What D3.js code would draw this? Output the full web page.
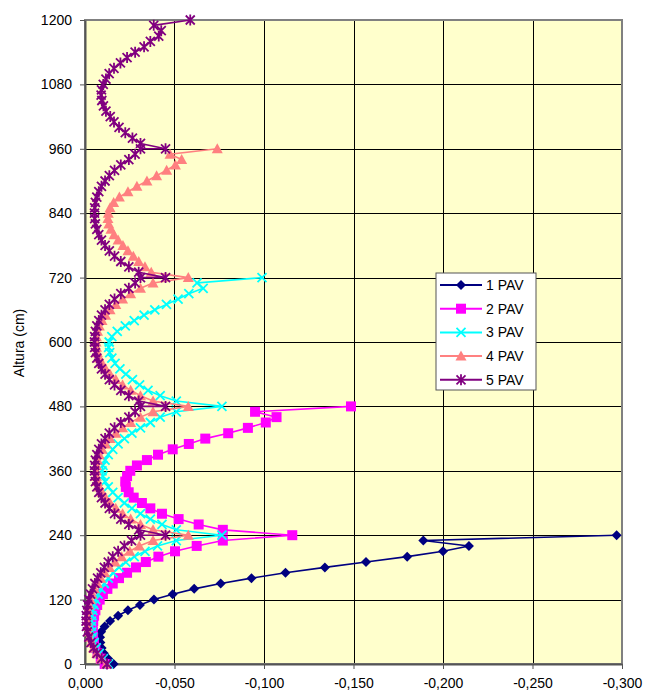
<!DOCTYPE html>
<html>
<head>
<meta charset="utf-8">
<title>Altura x PAV</title>
<script src="https://cdn.jsdelivr.net/npm/d3@7"></script>
<style>
body { margin: 0; background: #ffffff; }
text { font-family: "Liberation Sans", Arial, sans-serif; fill: #000; }
</style>
</head>
<body>
<script>

// tick labels / categories
var xTicks = [0, -0.05, -0.1, -0.15, -0.2, -0.25, -0.3];
var yTicks = [0, 120, 240, 360, 480, 600, 720, 840, 960, 1080, 1200];
var seriesNames = ["1 PAV", "2 PAV", "3 PAV", "4 PAV", "5 PAV"];

// [altura (cm), valor]
var pav1 = [[0,-0.016],[10,-0.013],[20,-0.0105],[30,-0.0093],[40,-0.0086],[50,-0.0084],[60,-0.009],
  [70,-0.011],[80,-0.014],[90,-0.0185],[100,-0.024],[110,-0.0307],[120,-0.0385],[130,-0.049],
  [140,-0.061],[150,-0.0758],[160,-0.093],[170,-0.112],[180,-0.134],[190,-0.157],[200,-0.180],
  [210,-0.200],[220,-0.2145],[230,-0.189],[240,-0.297]];

var pav2 = [[0,-0.011],[10,-0.0088],[20,-0.007],[30,-0.0058],[40,-0.005],[50,-0.0045],[60,-0.0043],
  [70,-0.0043],[80,-0.0046],[90,-0.0051],[100,-0.0058],[110,-0.0068],[120,-0.0082],[130,-0.010],
  [140,-0.0125],[150,-0.0155],[160,-0.019],[170,-0.0235],[180,-0.0285],[190,-0.034],[200,-0.041],
  [210,-0.0503],[220,-0.0624],[230,-0.077],[240,-0.1158],
  [250,-0.077],[260,-0.0635],[270,-0.0523],[280,-0.043],[290,-0.0365],[300,-0.0318],[310,-0.0272],
  [320,-0.0244],[330,-0.0228],[340,-0.0225],[350,-0.0235],[360,-0.0253],[370,-0.029],[380,-0.0346],
  [390,-0.0408],[400,-0.049],[410,-0.058],[420,-0.0672],[430,-0.080],[440,-0.091],[450,-0.101],
  [460,-0.107],[470,-0.095],[480,-0.1486]];

var pav3 = [[0,-0.013],[10,-0.0102],[20,-0.008],[30,-0.0063],[40,-0.0051],[50,-0.0043],[60,-0.0038],
  [70,-0.0036],[80,-0.0036],[90,-0.0039],[100,-0.0044],[110,-0.0051],[120,-0.006],[130,-0.0073],
  [140,-0.0089],[150,-0.0108],[160,-0.013],[170,-0.0157],[180,-0.019],[190,-0.0228],[200,-0.0275],
  [210,-0.0335],[220,-0.0405],[230,-0.051],[240,-0.0765],
  [250,-0.051],[260,-0.043],[270,-0.0365],[280,-0.031],[290,-0.0262],[300,-0.022],[310,-0.0185],
  [320,-0.0155],[330,-0.013],[340,-0.0112],[350,-0.010],[360,-0.0095],[370,-0.010],[380,-0.0112],
  [390,-0.013],[400,-0.0155],[410,-0.0185],[420,-0.022],[430,-0.0262],[440,-0.031],[450,-0.0365],
  [460,-0.042],[470,-0.051],[480,-0.0765],
  [490,-0.051],[500,-0.042],[510,-0.0352],[520,-0.0305],[530,-0.0265],[540,-0.0228],[550,-0.0195],
  [560,-0.0168],[570,-0.015],[580,-0.0138],[590,-0.0132],[600,-0.0135],[610,-0.015],[620,-0.018],
  [630,-0.0225],[640,-0.0275],[650,-0.033],[660,-0.039],[670,-0.0455],[680,-0.052],[690,-0.058],
  [700,-0.066],[710,-0.0626],[720,-0.0989]];

var pav4 = [[0,-0.012],[10,-0.009],[20,-0.0066],[30,-0.0048],[40,-0.0035],[50,-0.0025],[60,-0.0018],
  [70,-0.0014],[80,-0.0012],[90,-0.0013],[100,-0.0016],[110,-0.0022],[120,-0.003],[130,-0.004],
  [140,-0.0053],[150,-0.0069],[160,-0.0088],[170,-0.011],[180,-0.0137],[190,-0.0168],[200,-0.0205],
  [210,-0.025],[220,-0.0303],[230,-0.038],[240,-0.0577],
  [250,-0.038],[260,-0.031],[270,-0.0255],[280,-0.021],[290,-0.0172],[300,-0.014],[310,-0.0115],
  [320,-0.0095],[330,-0.008],[340,-0.007],[350,-0.0064],[360,-0.0062],[370,-0.0064],[380,-0.007],
  [390,-0.008],[400,-0.0095],[410,-0.0115],[420,-0.014],[430,-0.0172],[440,-0.021],[450,-0.0255],
  [460,-0.031],[470,-0.038],[480,-0.0577],
  [490,-0.038],[500,-0.031],[510,-0.0255],[520,-0.021],[530,-0.0172],[540,-0.014],[550,-0.0115],
  [560,-0.0095],[570,-0.008],[580,-0.007],[590,-0.0064],[600,-0.0062],[610,-0.0064],[620,-0.007],
  [630,-0.008],[640,-0.0095],[650,-0.0115],[660,-0.014],[670,-0.0172],[680,-0.021],[690,-0.0255],
  [700,-0.031],[710,-0.038],[720,-0.0577],
  [730,-0.037],[740,-0.0335],[750,-0.030],[760,-0.027],[770,-0.024],[780,-0.0212],[790,-0.0185],
  [800,-0.0162],[810,-0.0145],[820,-0.0133],[830,-0.0128],[840,-0.013],[850,-0.014],[860,-0.016],
  [870,-0.0192],[880,-0.024],[890,-0.029],[900,-0.0346],[910,-0.040],[920,-0.0456],[930,-0.0505],
  [940,-0.054],[950,-0.0475],[960,-0.0739]];

var pav5 = [[0,-0.0123],[10,-0.0093],[20,-0.0067],[30,-0.0048],[40,-0.0033],[50,-0.0021],[60,-0.0013],
  [70,-0.0008],[80,-0.0006],[90,-0.0007],[100,-0.001],[110,-0.0015],[120,-0.0022],[130,-0.0031],
  [140,-0.0042],[150,-0.0055],[160,-0.007],[170,-0.0088],[180,-0.0108],[190,-0.013],[200,-0.0155],
  [210,-0.0185],[220,-0.022],[230,-0.026],[240,-0.031],[240,-0.045],
  [250,-0.030],[260,-0.0245],[270,-0.020],[280,-0.0165],[290,-0.0136],[300,-0.0112],[310,-0.0092],
  [320,-0.0077],[330,-0.0066],[340,-0.0058],[350,-0.0054],[360,-0.0053],[370,-0.0054],[380,-0.0058],
  [390,-0.0066],[400,-0.0077],[410,-0.0092],[420,-0.0112],[430,-0.0136],[440,-0.0165],[450,-0.020],
  [460,-0.0245],[470,-0.028],[480,-0.031],[480,-0.045],
  [490,-0.030],[500,-0.0245],[510,-0.020],[520,-0.0165],[530,-0.0136],[540,-0.0112],[550,-0.0092],
  [560,-0.0077],[570,-0.0066],[580,-0.0058],[590,-0.0054],[600,-0.0053],[610,-0.0054],[620,-0.0058],
  [630,-0.0066],[640,-0.0077],[650,-0.0092],[660,-0.0112],[670,-0.0136],[680,-0.0165],[690,-0.020],
  [700,-0.0245],[710,-0.028],[720,-0.031],[720,-0.045],
  [730,-0.030],[740,-0.0245],[750,-0.020],[760,-0.0165],[770,-0.0136],[780,-0.0112],[790,-0.0092],
  [800,-0.0077],[810,-0.0066],[820,-0.0058],[830,-0.0054],[840,-0.0053],[850,-0.0054],[860,-0.0058],
  [870,-0.0066],[880,-0.0077],[890,-0.0092],[900,-0.0112],[910,-0.0136],[920,-0.0165],[930,-0.020],
  [940,-0.0245],[950,-0.028],[960,-0.031],[960,-0.045],
  [970,-0.031],[980,-0.0265],[990,-0.0225],[1000,-0.019],[1010,-0.0162],[1020,-0.0141],[1030,-0.0117],
  [1040,-0.0103],[1050,-0.0094],[1060,-0.009],[1070,-0.0092],[1080,-0.0102],[1090,-0.0117],
  [1100,-0.0135],[1110,-0.0162],[1120,-0.0198],[1130,-0.0235],[1140,-0.028],[1150,-0.033],
  [1160,-0.0365],[1170,-0.0412],[1180,-0.0426],[1190,-0.0384],[1200,-0.0588]];

var allSeries = [pav1, pav2, pav3, pav4, pav5];
var colors = ["#000080", "#ff00ff", "#00ffff", "#ff8080", "#800080"];
var markers = ["diamond", "square", "x", "triangle", "star"];

// dimensions
var margin = {top: 20, right: 25, bottom: 31, left: 85},
  width = 647 - margin.left - margin.right,
  height = 695 - margin.top - margin.bottom;

var svg = d3.select("body").append("svg")
  .attr("width", 647)
  .attr("height", 695)
 .append("g")
  .attr("transform", "translate(" + margin.left + "," + margin.top + ")");

var x = d3.scaleLinear().domain([0, -0.3]).range([0, width]);
var y = d3.scaleLinear().domain([0, 1200]).range([height, 0]);

var fmt = d3.formatLocale({decimal: ",", thousands: ".", grouping: [3], currency: ["", ""], minus: "-"}).format(".3f");

// plot background
svg.append("rect")
  .attr("width", width)
  .attr("height", height)
  .attr("fill", "#ffffcc");

// grid
svg.append("g").selectAll("line")
  .data(yTicks.slice(1, -1))
  .enter().append("line")
  .attr("x1", 0).attr("x2", width)
  .attr("y1", function(d) { return Math.round(y(d)) + 0.5; })
  .attr("y2", function(d) { return Math.round(y(d)) + 0.5; })
  .attr("stroke", "#000").attr("stroke-width", 1);

svg.append("g").selectAll("line")
  .data(xTicks.slice(1, -1))
  .enter().append("line")
  .attr("y1", 0).attr("y2", height)
  .attr("x1", function(d) { return Math.round(x(d)) + 0.5; })
  .attr("x2", function(d) { return Math.round(x(d)) + 0.5; })
  .attr("stroke", "#000").attr("stroke-width", 1);

// border
svg.append("rect")
  .attr("width", width)
  .attr("height", height)
  .attr("fill", "none")
  .attr("stroke", "#808080")
  .attr("stroke-width", 2);

// axes
var yAxis = svg.append("g")
  .call(d3.axisLeft(y).tickValues(yTicks).tickSize(5).tickSizeOuter(0).tickFormat(d3.format("d")));
yAxis.select(".domain").attr("stroke", "#555").attr("stroke-width", 2);
yAxis.selectAll(".tick line").attr("stroke", "#555");
yAxis.selectAll("text").style("font-size", "14px").attr("x", -13);

var xAxis = svg.append("g")
  .attr("transform", "translate(0," + height + ")")
  .call(d3.axisBottom(x).tickValues(xTicks).tickSize(5).tickSizeOuter(0).tickFormat(fmt));
xAxis.select(".domain").attr("stroke", "#555").attr("stroke-width", 2);
xAxis.selectAll(".tick line").attr("stroke", "#555");
xAxis.selectAll("text").style("font-size", "14px").attr("y", 14);

// y title
svg.append("text")
  .attr("transform", "translate(" + (-66) + "," + (height / 2 + 1) + ") rotate(-90)")
  .attr("text-anchor", "middle")
  .attr("dy", "0.35em")
  .style("font-size", "14px")
  .text("Altura (cm)");

function drawMarker(g, type, color) {
  if (type === "diamond") {
    g.append("path").attr("d", "M0,-5L5,0L0,5L-5,0Z").attr("fill", color);
  } else if (type === "square") {
    g.append("rect").attr("x", -5).attr("y", -5).attr("width", 10).attr("height", 10).attr("fill", color);
  } else if (type === "x") {
    g.append("path").attr("d", "M-4.5,-4.5L4.5,4.5M-4.5,4.5L4.5,-4.5").attr("stroke", color).attr("stroke-width", 1.8).attr("fill", "none");
  } else if (type === "triangle") {
    g.append("path").attr("d", "M0,-5.5L5.5,4.5L-5.5,4.5Z").attr("fill", color);
  } else {
    g.append("path").attr("d", "M-4.5,-4.5L4.5,4.5M-4.5,4.5L4.5,-4.5M0,-5.5L0,5.5").attr("stroke", color).attr("stroke-width", 1.8).attr("fill", "none");
  }
}

var line = d3.line()
  .x(function(d) { return x(d[1]); })
  .y(function(d) { return y(d[0]); });

allSeries.forEach(function(data, i) {
  var g = svg.append("g");
  g.append("path")
    .datum(data)
    .attr("d", line)
    .attr("fill", "none")
    .attr("stroke", colors[i])
    .attr("stroke-width", 1.6);
  g.selectAll(".m")
    .data(data)
    .enter().append("g")
    .attr("transform", function(d) { return "translate(" + x(d[1]) + "," + y(d[0]) + ")"; })
    .each(function() { drawMarker(d3.select(this), markers[i], colors[i]); });
});

// legend
var legend = svg.append("g").attr("transform", "translate(" + (436 - margin.left) + "," + (273 - margin.top) + ")");
legend.append("rect")
  .attr("width", 100).attr("height", 117)
  .attr("fill", "#fff")
  .attr("stroke", "#555").attr("stroke-width", 1);

seriesNames.forEach(function(name, i) {
  var ly = 12 + i * 23.7;
  var row = legend.append("g").attr("transform", "translate(0," + ly + ")");
  row.append("line").attr("x1", 4).attr("x2", 46).attr("stroke", colors[i]).attr("stroke-width", 2);
  drawMarker(row.append("g").attr("transform", "translate(25,0)"), markers[i], colors[i]);
  row.append("text").attr("x", 50).attr("dy", "0.35em").style("font-size", "14px").text(name);
});

</script>
</body>
</html>
